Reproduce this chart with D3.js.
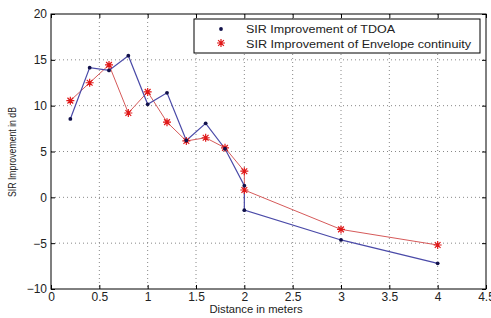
<!DOCTYPE html>
<html>
<head>
<meta charset="utf-8">
<script src="https://cdn.jsdelivr.net/npm/d3@7"></script>
<style>
  body { margin: 0; background: #fff; }
  svg { display: block; font-family: "Liberation Sans", Arial, sans-serif; }
</style>
</head>
<body>
<div id="viz"></div>
<script>
// data
const distance = [0.2, 0.4, 0.6, 0.8, 1.0, 1.2, 1.4, 1.6, 1.8, 2.0, 2.0, 3, 4];
const tdoa = [8.55, 14.15, 13.85, 15.45, 10.15, 11.4, 6.2, 8.07, 5.3, 1.27, -1.4, -4.65, -7.2];
const envelope = [10.55, 12.5, 14.45, 9.2, 11.5, 8.2, 6.15, 6.5, 5.4, 2.85, 0.8, -3.5, -5.2];
const xTicks = [0, 0.5, 1, 1.5, 2, 2.5, 3, 3.5, 4, 4.5];
const yTicks = [-10, -5, 0, 5, 10, 15, 20];
const seriesNames = ["SIR Improvement of TDOA", "SIR Improvement of Envelope continuity"];

const W = 491, H = 318;
const plot = {left: 51, right: 486, top: 14, bottom: 289};

const svg = d3.select("#viz").append("svg")
    .attr("width", W)
    .attr("height", H);

const x = d3.scaleLinear().domain([0, 4.5]).range([plot.left, plot.right]);
const y = d3.scaleLinear().domain([-10, 20]).range([plot.bottom, plot.top]);

// grid (dotted)
svg.append("g").selectAll("line")
  .data(xTicks.slice(1, -1)).enter().append("line")
    .attr("x1", d => x(d)).attr("x2", d => x(d))
    .attr("y1", plot.top).attr("y2", plot.bottom)
    .attr("stroke", "#888").attr("stroke-width", 1)
    .attr("stroke-dasharray", "1,3");
svg.append("g").selectAll("line")
  .data(yTicks.slice(1, -1)).enter().append("line")
    .attr("y1", d => y(d)).attr("y2", d => y(d))
    .attr("x1", plot.left).attr("x2", plot.right)
    .attr("stroke", "#888").attr("stroke-width", 1)
    .attr("stroke-dasharray", "1,3");

// box
svg.append("rect")
    .attr("x", plot.left).attr("y", plot.top)
    .attr("width", plot.right - plot.left).attr("height", plot.bottom - plot.top)
    .attr("fill", "none").attr("stroke", "#000");

// axes
const xAxis = svg.append("g")
    .attr("transform", "translate(0," + plot.bottom + ")")
    .call(d3.axisBottom(x).tickValues(xTicks).tickSize(-4).tickPadding(3).tickFormat(d3.format("")));
const xTop = svg.append("g")
    .attr("transform", "translate(0," + plot.top + ")")
    .call(d3.axisTop(x).tickValues(xTicks).tickSize(-4).tickFormat(""));
const yAxis = svg.append("g")
    .attr("transform", "translate(" + plot.left + ",0)")
    .call(d3.axisLeft(y).tickValues(yTicks).tickSize(-4).tickPadding(4));
const yRight = svg.append("g")
    .attr("transform", "translate(" + plot.right + ",0)")
    .call(d3.axisRight(y).tickValues(yTicks).tickSize(-4).tickFormat(""));
[xAxis, xTop, yAxis, yRight].forEach(g => {
  g.select(".domain").remove();
  g.selectAll("line").attr("stroke", "#000");
  g.selectAll("text").attr("font-size", 12).attr("fill", "#222")
    .attr("font-family", "'Liberation Sans', Arial, sans-serif");
});

// axis titles (the source image is slightly stretched sideways)
svg.append("text")
    .attr("x", 256).attr("y", 313)
    .attr("text-anchor", "middle")
    .attr("font-size", 11).attr("fill", "#222")
    .attr("textLength", 93).attr("lengthAdjust", "spacingAndGlyphs")
    .text("Distance in meters");
svg.append("text")
    .attr("transform", "translate(16,152) rotate(-90)")
    .attr("text-anchor", "middle")
    .attr("font-size", 11).attr("fill", "#222")
    .attr("textLength", 90).attr("lengthAdjust", "spacingAndGlyphs")
    .text("SIR Improvement in dB");

const line = d3.line().x(d => x(d[0])).y(d => y(d[1]));

const tdoaPts = distance.map((d, i) => [d, tdoa[i]]);
const envPts = distance.map((d, i) => [d, envelope[i]]);

svg.append("path").datum(envPts)
    .attr("d", line).attr("fill", "none")
    .attr("stroke", "#d65a5a").attr("stroke-width", 1);
svg.append("path").datum(tdoaPts)
    .attr("d", line).attr("fill", "none")
    .attr("stroke", "#4a4aa8").attr("stroke-width", 1.2);

// MATLAB-like '*' marker: plus + cross
const starType = {
  draw(ctx, r) {
    const k = r * 0.72;
    ctx.moveTo(-r, 0); ctx.lineTo(r, 0);
    ctx.moveTo(0, -r); ctx.lineTo(0, r);
    ctx.moveTo(-k, -k); ctx.lineTo(k, k);
    ctx.moveTo(-k, k); ctx.lineTo(k, -k);
  }
};
const star = d3.symbol().type(starType).size(4);
function drawStar(sel) {
  sel.append("path").attr("d", star())
    .attr("stroke", "#e01818").attr("stroke-width", 1.2).attr("fill", "none");
}

svg.append("g").selectAll("path")
  .data(envPts).enter().append("g")
    .attr("transform", d => "translate(" + x(d[0]) + "," + y(d[1]) + ")")
    .call(drawStar);

svg.append("g").selectAll("circle")
  .data(tdoaPts).enter().append("circle")
    .attr("cx", d => x(d[0])).attr("cy", d => y(d[1]))
    .attr("r", 1.9).attr("fill", "#10104a");

// legend
const legendLen = [149, 225];
const lg = svg.append("g");
lg.append("rect")
    .attr("x", 194).attr("y", 19)
    .attr("width", 286).attr("height", 34)
    .attr("fill", "#fff").attr("stroke", "#000");
lg.append("circle").attr("cx", 221).attr("cy", 29).attr("r", 1.9).attr("fill", "#10104a");
lg.append("g").attr("transform", "translate(221,43)").call(drawStar);
lg.selectAll("text.lbl")
  .data(seriesNames).enter().append("text")
    .attr("class", "lbl")
    .attr("x", 246).attr("y", (d, i) => 33 + i * 14.5)
    .attr("font-size", 11).attr("fill", "#222")
    .attr("textLength", (d, i) => legendLen[i]).attr("lengthAdjust", "spacingAndGlyphs")
    .text(d => d);
</script>
</body>
</html>
